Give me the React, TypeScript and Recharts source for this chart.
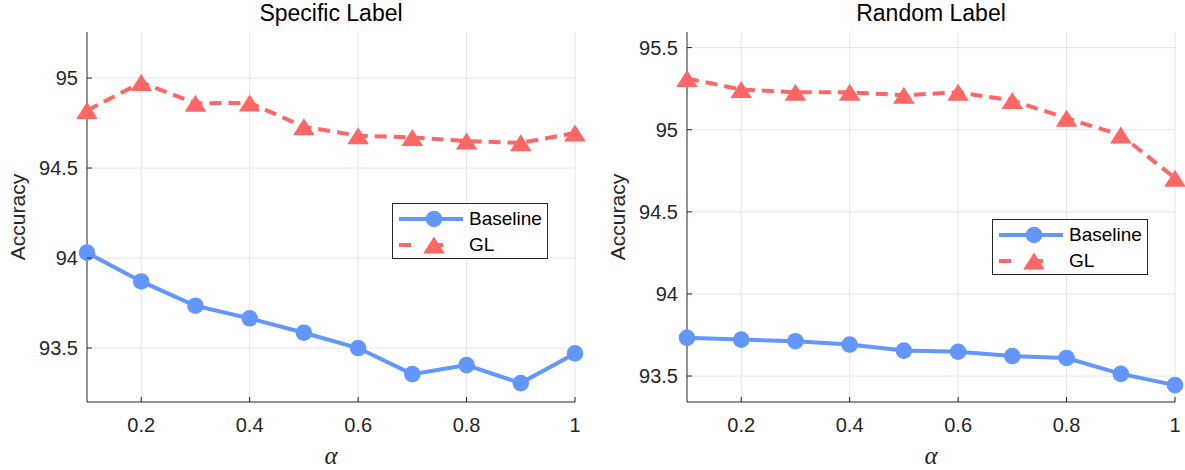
import { LineChart, Line, XAxis, YAxis, CartesianGrid, Legend } from 'recharts'

const alphas = [0.1, 0.2, 0.3, 0.4, 0.5, 0.6, 0.7, 0.8, 0.9, 1.0]
const xTicks = [0.2, 0.4, 0.6, 0.8, 1]

// Specific Label panel
const specificBaseline = [94.03, 93.87, 93.735, 93.665, 93.585, 93.5, 93.355, 93.405, 93.305, 93.47]
const specificGL = [94.82, 94.975, 94.86, 94.862, 94.73, 94.68, 94.67, 94.65, 94.64, 94.695]
const specificTicks = [93.5, 94, 94.5, 95]

// Random Label panel
const randomBaseline = [93.733, 93.722, 93.712, 93.692, 93.655, 93.648, 93.622, 93.61, 93.513, 93.445]
const randomGL = [95.312, 95.245, 95.228, 95.228, 95.21, 95.228, 95.178, 95.07, 94.968, 94.705]
const randomTicks = [93.5, 94, 94.5, 95, 95.5]

const BLUE = '#6496ff'
const RED = '#ff6666'
const AXIS = '#262626'
const FONT = '"Liberation Sans", Arial, Helvetica, sans-serif'

const Triangle = (props: any) => {
    const { cx, cy } = props
    if (cx == null || cy == null) return null
    return (
        <polygon
            points={`${cx},${cy - 8.5} ${cx - 10.8},${cy + 8.5} ${cx + 10.8},${cy + 8.5}`}
            fill={RED}
        />
    )
}

const Circle = (props: any) => {
    const { cx, cy } = props
    if (cx == null || cy == null) return null
    return <circle cx={cx} cy={cy} r={8.3} fill={BLUE} />
}

const YTick = ({ x, y, payload }: any) => (
    <g>
        <line x1={x} x2={x + 5} y1={y} y2={y} stroke={AXIS} />
        <text x={x - 9} y={y} dy="0.36em" textAnchor="end" fill={AXIS} fontSize={20} fontFamily={FONT}>
            {String(payload.value)}
        </text>
    </g>
)

const XTick = ({ x, y, payload }: any) => (
    <g>
        <line x1={x} x2={x} y1={y} y2={y - 5} stroke={AXIS} />
        <text x={x} y={y + 30} textAnchor="middle" fill={AXIS} fontSize={20} fontFamily={FONT}>
            {String(payload.value)}
        </text>
    </g>
)

const LegendBox = () => (
    <div style={{
        width: 154,
        height: 54,
        border: `1px solid ${AXIS}`,
        background: '#fff',
        fontFamily: FONT,
        fontSize: 19,
        color: '#000',
        boxSizing: 'content-box',
    }}>
        <div style={{ display: 'flex', alignItems: 'center', height: 26, marginTop: 2 }}>
            <svg width={76} height={26}>
                <line x1={6} x2={70} y1={13} y2={13} stroke={BLUE} strokeWidth={4} />
                <circle cx={41} cy={13} r={8.3} fill={BLUE} />
            </svg>
            <span>Baseline</span>
        </div>
        <div style={{ display: 'flex', alignItems: 'center', height: 26 }}>
            <svg width={76} height={26}>
                <line x1={6} x2={70} y1={13} y2={13} stroke={RED} strokeWidth={4} strokeDasharray="12 20" />
                <polygon points="41,4.5 30.2,21.5 51.8,21.5" fill={RED} />
            </svg>
            <span>GL</span>
        </div>
    </div>
)

function Panel(props: {
    title: string
    baseline: number[]
    gl: number[]
    yTicks: number[]
    yDomain: [number, number]
    width: number
    left: number
    legendPos: { left: number; top: number }
}) {
    const data = alphas.map((a, i) => ({ alpha: a, baseline: props.baseline[i], gl: props.gl[i] }))
    return (
        <div style={{ position: 'absolute', left: props.left, top: 0, width: props.width, height: 470 }}>
            <div style={{
                position: 'absolute', left: 87, top: 0, width: 488, textAlign: 'center',
                fontFamily: FONT, fontSize: 23, lineHeight: '26px', color: '#000',
            }}>
                {props.title}
            </div>
            <LineChart
                width={props.width}
                height={470}
                data={data}
                margin={{ top: 32, right: props.width - 575, bottom: 0, left: 0 }}
            >
                <CartesianGrid
                    stroke="#e6e6e6"
                    strokeWidth={1}
                    horizontalValues={props.yTicks}
                    verticalValues={xTicks}
                />
                <XAxis
                    dataKey="alpha"
                    type="number"
                    domain={[0.1, 1]}
                    ticks={xTicks}
                    height={68}
                    stroke={AXIS}
                    tickSize={0}
                    tickMargin={0}
                    tickLine={false}
                    tick={<XTick />}
                    label={{
                        content: ({ viewBox }: any) => (
                            <text
                                x={viewBox.x + viewBox.width / 2}
                                y={viewBox.y + 62}
                                textAnchor="middle"
                                fontSize={25}
                                fontStyle="italic"
                                fontFamily='"Liberation Serif", "DejaVu Serif", serif'
                                fill={AXIS}
                            >
                                α
                            </text>
                        ),
                    }}
                />
                <YAxis
                    type="number"
                    domain={props.yDomain}
                    ticks={props.yTicks}
                    width={87}
                    stroke={AXIS}
                    tickSize={0}
                    tickMargin={0}
                    tickLine={false}
                    tick={<YTick />}
                    allowDataOverflow
                    label={{
                        content: ({ viewBox }: any) => {
                            const cx = viewBox.x + 25
                            const cy = viewBox.y + viewBox.height / 2
                            return (
                                <text
                                    x={cx}
                                    y={cy}
                                    transform={`rotate(-90, ${cx}, ${cy})`}
                                    textAnchor="middle"
                                    fontSize={21}
                                    fontFamily={FONT}
                                    fill={AXIS}
                                >
                                    Accuracy
                                </text>
                            )
                        },
                    }}
                />
                <Legend
                    layout="vertical"
                    align="center"
                    verticalAlign="middle"
                    content={<LegendBox />}
                    wrapperStyle={{ left: props.legendPos.left, top: props.legendPos.top, width: 156, height: 56 }}
                />
                <Line
                    dataKey="baseline"
                    name="Baseline"
                    type="linear"
                    stroke={BLUE}
                    strokeWidth={4}
                    dot={<Circle />}
                    activeDot={false}
                    isAnimationActive={false}
                />
                <Line
                    dataKey="gl"
                    name="GL"
                    type="linear"
                    stroke={RED}
                    strokeWidth={4}
                    strokeDasharray="12 7"
                    dot={<Triangle />}
                    activeDot={false}
                    isAnimationActive={false}
                />
            </LineChart>
        </div>
    )
}

export default function App() {
    return (
        <div style={{ position: 'absolute', left: 0, top: 0, width: 1185, height: 470, background: '#fff' }}>
            <Panel
                title="Specific Label"
                baseline={specificBaseline}
                gl={specificGL}
                yTicks={specificTicks}
                yDomain={[93.2, 95.256]}
                width={600}
                left={0}
                legendPos={{ left: 392, top: 203 }}
            />
            <Panel
                title="Random Label"
                baseline={randomBaseline}
                gl={randomGL}
                yTicks={randomTicks}
                yDomain={[93.342, 95.595]}
                width={585}
                left={600}
                legendPos={{ left: 392, top: 219 }}
            />
        </div>
    )
}
